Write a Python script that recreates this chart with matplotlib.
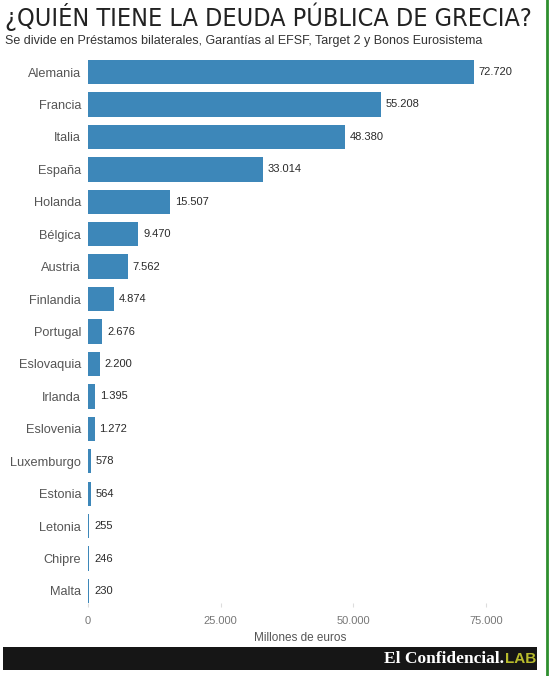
import matplotlib
matplotlib.use("Agg")
from matplotlib import pyplot as plt
from matplotlib.patches import Rectangle
from matplotlib.lines import Line2D

paises = ["Alemania", "Francia", "Italia", "España", "Holanda", "Bélgica", "Austria",
          "Finlandia", "Portugal", "Eslovaquia", "Irlanda", "Eslovenia", "Luxemburgo",
          "Estonia", "Letonia", "Chipre", "Malta"]
deuda = [72720, 55208, 48380, 33014, 15507, 9470, 7562, 4874, 2676, 2200, 1395, 1272,
         578, 564, 255, 246, 230]
xticks = [0, 25000, 50000, 75000]
xtick_labels = ["0", "25.000", "50.000", "75.000"]

plt.rcParams['font.family'] = ['Liberation Sans', 'DejaVu Sans']

W, H = 549, 676
fig = plt.figure(figsize=(W / 100, H / 100), dpi=100)
fig.patch.set_facecolor("white")

ax = fig.add_axes([88 / W, 1 - 603 / H, 424.5 / W, (603 - 52.6) / H])
pos = list(range(len(paises)))
ax.barh(pos, deuda, height=0.75, color="#3d87b9")
ax.set_xlim(0, 80000)
ax.set_ylim(16.37, -0.6)
ax.set_yticks(pos)
ax.set_yticklabels(paises, fontsize=9.2, color="#555555")
ax.tick_params(axis="y", length=0, pad=5)
ax.set_xticks(xticks)
ax.set_xticklabels(xtick_labels, fontsize=8, color="#777777")
ax.tick_params(axis="x", length=3, color="#dddddd", pad=6)
for s in ax.spines.values():
    s.set_visible(False)
ax.set_xlabel("Millones de euros", fontsize=8.5, color="#555555", labelpad=5)

for p, v in zip(pos, deuda):
    ax.text(v + 900, p, "{:,}".format(v).replace(",", "."), va="center", ha="left",
            fontsize=8, color="#2a2a2a")

title = fig.text(5 / W, 1 - 17 / H, "¿QUIÉN TIENE LA DEUDA PÚBLICA DE GRECIA?",
                 fontsize=20, family="DejaVu Sans", fontstretch="condensed",
                 color="#222222", va="center", ha="left")
# ajustar ancho del título a ~525 px
r = fig.canvas.get_renderer()
w = title.get_window_extent(r).width
title.set_fontsize(20 * 525 / w)
fig.text(5 / W, 1 - 41 / H,
         "Se divide en Préstamos bilaterales, Garantías al EFSF, Target 2 y Bonos Eurosistema",
         fontsize=9, color="#333333", va="center", ha="left")

# franja inferior
fig.patches.append(Rectangle((3 / W, 1 - 670 / H), 534 / W, 23 / H, transform=fig.transFigure,
                             facecolor="#161616", edgecolor="none"))
fig.text(504 / W, 1 - 659 / H, "El Confidencial.", fontsize=12.5, family="Liberation Serif",
         weight="bold", color="white", va="center", ha="right")
fig.text(505 / W, 1 - 659 / H, "LAB", fontsize=11, weight="bold", color="#b8bc2c",
         va="center", ha="left")
fig.lines.append(Line2D([547 / W, 547 / W], [0, 1], transform=fig.transFigure,
                        color="#2f8f2f", linewidth=2))

fig.savefig("out.png", dpi=100)
